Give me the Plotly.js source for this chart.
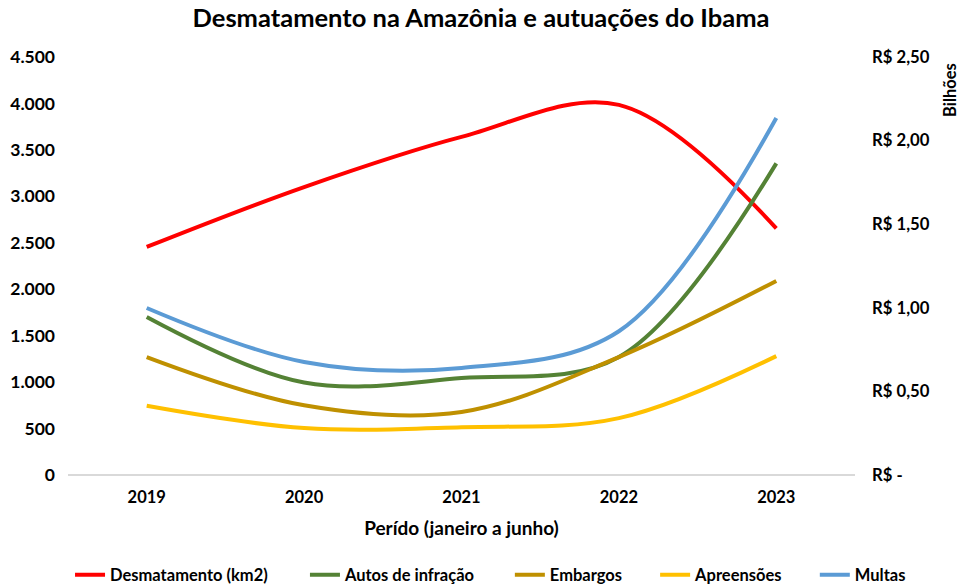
<!DOCTYPE html>
<html>
<head>
<meta charset="utf-8">
<script src="https://cdn.plot.ly/plotly-3.0.1.min.js"></script>
<style>html,body{margin:0;padding:0;background:#fff}#chart{width:962px;height:585px}</style>
</head>
<body>
<div id="chart"></div>
<script>
const years = ['2019', '2020', '2021', '2022', '2023'];
const desmatamento = [2455, 3100, 3640, 3985, 2655];
const autosInfracao = [1701, 995, 1044, 1270, 3355];
const embargos = [1270, 750, 678, 1270, 2089];
const apreensoes = [745, 505, 515, 612, 1280];
const multas = [0.999, 0.676, 0.640, 0.860, 2.135];

const leftTicks = [0, 500, 1000, 1500, 2000, 2500, 3000, 3500, 4000, 4500];
const leftTickText = ['0', '500', '1.000', '1.500', '2.000', '2.500', '3.000', '3.500', '4.000', '4.500'];
const rightTicks = [0, 0.5, 1, 1.5, 2, 2.5];
const rightTickText = ['R$ -', 'R$ 0,50', 'R$ 1,00', 'R$ 1,50', 'R$ 2,00', 'R$ 2,50'];

const FONT = 'Lato, "Open Sans", sans-serif';
const lineStyle = (c) => ({color: c, width: 4, shape: 'spline', smoothing: 1});

const traces = [
  {x: years, y: desmatamento, name: 'Desmatamento (km2)', mode: 'lines', line: lineStyle('#ff0000'), legend: 'legend'},
  {x: years, y: autosInfracao, name: 'Autos de infração', mode: 'lines', line: lineStyle('#548235'), legend: 'legend2'},
  {x: years, y: embargos, name: 'Embargos', mode: 'lines', line: lineStyle('#bf9000'), legend: 'legend3'},
  {x: years, y: apreensoes, name: 'Apreensões', mode: 'lines', line: lineStyle('#ffc000'), legend: 'legend4'},
  {x: years, y: multas, name: 'Multas', mode: 'lines', yaxis: 'y2', line: lineStyle('#5b9bd5'), legend: 'legend5'}
];

const legendBase = (xpos) => ({
  orientation: 'h', xref: 'container', x: xpos, xanchor: 'left',
  yref: 'container', y: 0.017, yanchor: 'middle',
  bgcolor: 'rgba(0,0,0,0)',
  font: {family: FONT, size: 16.5, color: '#000', weight: 'bold'}
});

const layout = {
  width: 962, height: 585,
  margin: {l: 68, r: 107, t: 57, b: 110, autoexpand: false},
  paper_bgcolor: '#ffffff', plot_bgcolor: '#ffffff',
  font: {family: FONT, color: '#000000'},
  showlegend: true,
  title: {text: '<b>Desmatamento na Amazônia e autuações do Ibama</b>', font: {family: FONT, size: 25.5, color: '#000'}, x: 0.5, xanchor: 'center', yref: 'container', y: 0.969, yanchor: 'middle'},
  xaxis: {
    type: 'category', range: [-0.5, 4.5],
    showgrid: false, zeroline: false, showline: false, ticks: '',
    tickfont: {family: FONT, size: 16.5, color: '#000', weight: 'bold'},
    ticklabelstandoff: 10,
    title: {text: '<b>Perído (janeiro a junho)</b>', font: {family: FONT, size: 19, color: '#000'}, standoff: 16}
  },
  yaxis: {
    range: [0, 4500], tickvals: leftTicks, ticktext: leftTickText,
    showgrid: false, zeroline: true, zerolinecolor: '#d9d9d9', zerolinewidth: 2,
    showline: false, ticks: '', ticklabelstandoff: 12,
    tickfont: {family: FONT, size: 17.5, color: '#000', weight: 'bold'}
  },
  yaxis2: {
    overlaying: 'y', side: 'right', range: [0, 2.5],
    tickvals: rightTicks, ticktext: rightTickText,
    showgrid: false, zeroline: false, showline: false, ticks: '', ticklabelstandoff: 16,
    tickfont: {family: FONT, size: 16.7, color: '#000', weight: 'bold'}
  },
  legend: legendBase(0.0728),
  legend2: legendBase(0.317),
  legend3: legendBase(0.530),
  legend4: legendBase(0.681),
  legend5: legendBase(0.847),
  annotations: [{
    text: '<b>Bilhões</b>', xref: 'paper', yref: 'paper', x: 1.1207, y: 0.921,
    xanchor: 'center', yanchor: 'middle',
    showarrow: false, textangle: -90, font: {family: FONT, size: 16.5, color: '#000'}
  }]
};

Plotly.newPlot('chart', traces, layout, {displayModeBar: false, staticPlot: true});
</script>
</body>
</html>
